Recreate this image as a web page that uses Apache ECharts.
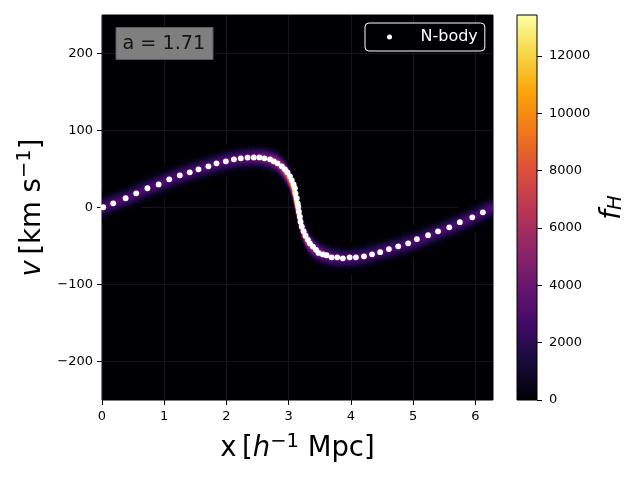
<!DOCTYPE html>
<html><head><meta charset="utf-8">
<style>html,body{margin:0;padding:0;background:#fff}#c{width:640px;height:480px}</style>
<script src="https://cdn.jsdelivr.net/npm/echarts@6/dist/echarts.min.js"></script>
</head><body><div id="c"></div>
<script>
// N-body particles
const particleX = [0.02,0.18,0.38,0.55,0.73,0.91,1.08,1.25,1.41,1.55,1.71,1.84,1.99,2.12,2.23,2.34,2.44,2.53,2.61,2.70,2.76,2.82,2.89,2.94,2.98,3.02,3.05,3.08,3.10,3.11,3.13,3.145,3.155,3.165,3.18,3.19,3.21,3.24,3.27,3.31,3.34,3.39,3.44,3.48,3.55,3.61,3.69,3.78,3.87,3.98,4.08,4.21,4.34,4.47,4.61,4.76,4.92,5.06,5.24,5.40,5.58,5.75,5.95,6.12];
const particleV = [0.3,5.4,12,18.4,25,30,36.6,41.8,45.7,49.6,53.5,57.4,60,62.6,63.9,64.8,65,65,63.9,62.6,60,57.4,53.5,49.6,45.7,40.5,35.3,30,25,18.4,12,5.4,1,-5.4,-11.9,-18.4,-24.8,-31,-36.6,-42,-46.5,-50.8,-55,-59,-61,-62,-64.7,-64.7,-66,-64.7,-64.7,-63.4,-60.8,-58,-54,-50.4,-46.5,-41,-36,-31,-25.7,-19,-12.8,-6.3];
// Ridge of the phase-space density
const ridgeX = [0,0.4,0.8,1.2,1.6,2.0,2.2,2.4,2.55,2.7,2.8,2.87,2.93,2.98,3.03,3.07,3.10,3.13,3.16,3.19,3.23,3.28,3.34,3.41,3.49,3.59,3.7,3.85,4.0,4.2,4.5,4.8,5.1,5.4,5.7,6.0,6.283];
const ridgeV = [0,12.5,27,40,51,60.5,63.5,65,65,62.5,59,54,48,42,34,24,12,1,-9,-20,-30,-40,-48,-54,-58,-62,-64.5,-66,-66,-63.5,-57,-50,-42,-32,-22,-11,0];
const ridgeF = [3000,3000,3050,3100,3200,3400,3600,3900,4300,5100,5800,6900,8100,9300,10600,12000,13000,13300,12800,11500,10000,8500,7000,5800,4900,4100,3700,3400,3200,3050,3000,3000,3000,3000,3000,3000,3000];
// Vertical profile of the band: half-height in km/s and share of ridge value
const bandOffset = [20.5,18.5,16.5,14.5,12.5,11,9.5,8,6,4.5,3,1];
const bandShare = [0.02,0.04,0.08,0.15,0.24,0.34,0.47,0.61,0.74,0.86,0.95,1];
const xTicks = [0,1,2,3,4,5,6];
const yTicks = [-200,-100,0,100,200];
const barTicks = [0,2000,4000,6000,8000,10000,12000];
const fMax = 13430;
const infernoStops = ['#000004','#160b39','#420a68','#6a176e','#932667','#bc3754','#dd513a','#f37819','#fca50a','#f6d746','#fcffa4'];

function hex(c){return [1,3,5].map(i=>parseInt(c.substr(i,2),16));}
function inferno(t){
  t=Math.max(0,Math.min(1,t))*(infernoStops.length-1);
  const i=Math.min(Math.floor(t),infernoStops.length-2),f=t-i,a=hex(infernoStops[i]),b=hex(infernoStops[i+1]);
  return 'rgb('+a.map((v,k)=>Math.round(v+(b[k]-v)*f)).join(',')+')';
}
const bandCells=[];
bandOffset.forEach((_,l)=>{for(let s=0;s<ridgeX.length-1;s++)bandCells.push([l,s]);});

const chart=echarts.init(document.getElementById('c'),null,{renderer:'canvas'});
const FF='"DejaVu Sans"';
const minus=v=>String(v).replace('-','\u2212');
chart.setOption({
  animation:false,
  textStyle:{fontFamily:FF},
  title:{text:'a = 1.71',left:115.5,top:27,padding:[8,8,6,7],backgroundColor:'#7f7f7f',borderColor:'#5a5a5a',borderWidth:1,
    textStyle:{fontFamily:FF,fontSize:19.2,fontWeight:'normal',color:'#141414',lineHeight:19}},
  legend:{show:true,data:[{name:'N-body',icon:'circle'}],left:365,top:23,orient:'horizontal',
    backgroundColor:'#000004',borderColor:'#ffffff',borderWidth:1,borderRadius:4,padding:[6,7,6,22],
    itemWidth:28,itemHeight:5,symbolKeepAspect:true,
    textStyle:{color:'#fff',fontFamily:FF,fontSize:16,padding:[0,0,0,12]}},
  grid:[
    {left:102,right:147,top:15,bottom:80,show:true,backgroundColor:'#000004',borderColor:'#000',borderWidth:1,containLabel:false},
    {left:517,right:103,top:15,bottom:80,show:true,borderColor:'#000',borderWidth:1,
      backgroundColor:new echarts.graphic.LinearGradient(0,1,0,0,infernoStops.map((c,i)=>({offset:i/(infernoStops.length-1),color:c})))}
  ],
  xAxis:[
    {type:'value',gridIndex:0,min:0,max:6.283,
      axisLine:{show:false,onZero:false},
      axisTick:{show:true,length:5,inside:false,customValues:xTicks,lineStyle:{color:'#000',width:1}},
      axisLabel:{customValues:xTicks,color:'#000',fontSize:13,margin:10,hideOverlap:false,showMinLabel:true,showMaxLabel:true},
      splitLine:{show:true,lineStyle:{color:'#16161a',width:1}},
      name:'{n|x\u2009[}{i|h}{s|\u22121}{n| Mpc]}',nameLocation:'middle',nameGap:32,
      nameTextStyle:{rich:{
        n:{fontSize:27.5,fontFamily:FF,color:'#000',lineHeight:34},
        i:{fontSize:27.5,fontFamily:FF,fontStyle:'italic',color:'#000',lineHeight:34},
        s:{fontSize:19.5,fontFamily:FF,color:'#000',verticalAlign:'top',lineHeight:18}}}},
    {type:'value',gridIndex:1,min:0,max:1,show:false}
  ],
  yAxis:[
    {type:'value',gridIndex:0,min:-250,max:250,
      axisLine:{show:false,onZero:false},
      axisTick:{show:true,length:5,inside:false,customValues:yTicks,lineStyle:{color:'#000',width:1}},
      axisLabel:{customValues:yTicks,color:'#000',fontSize:13,margin:9,formatter:minus},
      splitLine:{show:true,lineStyle:{color:'#16161a',width:1}},
      name:'{i|v}{n|\u2009[km s}{s|\u22121}{n|]}',nameLocation:'middle',nameGap:50,nameRotate:90,
      nameTextStyle:{rich:{
        n:{fontSize:27.5,fontFamily:FF,color:'#000',lineHeight:34},
        i:{fontSize:27.5,fontFamily:FF,fontStyle:'italic',color:'#000',lineHeight:34},
        s:{fontSize:19.5,fontFamily:FF,color:'#000',verticalAlign:'top',lineHeight:18}}}},
    {type:'value',gridIndex:1,min:0,max:fMax,position:'right',
      axisLine:{show:false,onZero:false},
      axisTick:{show:true,length:5,inside:false,customValues:barTicks,lineStyle:{color:'#000',width:1}},
      axisLabel:{customValues:barTicks,color:'#000',fontSize:13,margin:12,formatter:v=>String(v)},
      splitLine:{show:false},
      name:'{i|f}{s|H}',nameLocation:'middle',nameGap:62,nameRotate:90,
      nameTextStyle:{rich:{
        i:{fontSize:27.5,fontFamily:FF,fontStyle:'italic',color:'#000'},
        s:{fontSize:19.5,fontFamily:FF,fontStyle:'italic',color:'#000',verticalAlign:'bottom',lineHeight:24}}}}
  ],
  series:[
    {type:'custom',name:'band',xAxisIndex:0,yAxisIndex:0,clip:true,silent:true,z:2,
      data:bandCells,encode:{x:[],y:[]},
      renderItem:function(params,api){
        const l=api.value(0),s=api.value(1),d=bandOffset[l];
        const f=0.5*(ridgeF[s]+ridgeF[s+1])*bandShare[l];
        const col=inferno(f/fMax);
        const pts=[api.coord([ridgeX[s],ridgeV[s]+d]),api.coord([ridgeX[s+1],ridgeV[s+1]+d]),
                   api.coord([ridgeX[s+1],ridgeV[s+1]-d]),api.coord([ridgeX[s],ridgeV[s]-d])];
        return {type:'polygon',shape:{points:pts},style:{fill:col,stroke:col,lineWidth:0.6}};
      }},
    {type:'scatter',name:'N-body',xAxisIndex:0,yAxisIndex:0,z:5,symbolSize:5.8,
      itemStyle:{color:'#fff',opacity:1},
      data:particleX.map((x,i)=>[x,particleV[i]])}
  ]
});
</script></body></html>
